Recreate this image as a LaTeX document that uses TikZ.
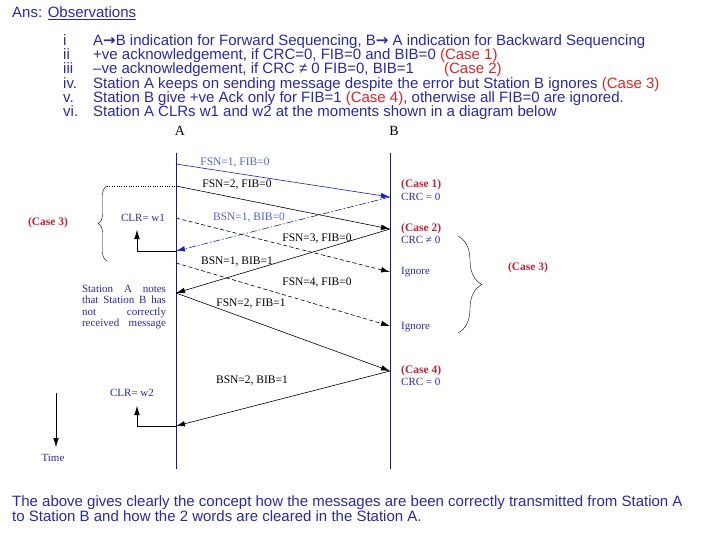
\documentclass[tikz,border=0pt]{standalone}
\usepackage{fontspec}
\setmainfont{Liberation Serif}
\newfontfamily\arialfont{Liberation Sans}
\newfontfamily\arrowfont{DejaVu Sans}
\newcommand{\rarr}{{\arrowfont\bfseries →}}
\usetikzlibrary{arrows.meta, decorations.pathreplacing}

\definecolor{txtblue}{RGB}{40,40,175}
\definecolor{lineblue}{RGB}{25,25,120}
\definecolor{msgblue}{RGB}{20,30,210}
\definecolor{lblblue}{RGB}{80,100,205}
\definecolor{txtred}{RGB}{225,35,35}
\definecolor{casered}{RGB}{190,35,55}

\begin{document}
\begin{tikzpicture}[x=1pt, y=-1pt,
    msg/.style={-{Latex[length=9pt,width=5.5pt]}, semithick},
    lbl/.style={font=\fontsize{11.5}{12}\selectfont, inner sep=0pt},
    note/.style={font=\fontsize{11}{11.3}\selectfont, text=txtblue, inner sep=0pt},
    casetxt/.style={font=\bfseries\fontsize{11.5}{12}\selectfont, text=casered, inner sep=0pt},
    obs/.style={font=\arialfont\fontsize{15}{16}\selectfont, text=txtblue, inner sep=0pt,
        text height=11pt, text depth=1pt, anchor=west}]

    \useasboundingbox (0,0) rectangle (720,540);

    % Observations
    \node[obs] (ans) at (12,13) {Ans: \underline{Observations}};
    \node[obs] (n1) at (63,41) {i};
    \node[obs] (t1) at (93,41) {A\rarr B indication for Forward Sequencing, B\rarr\ A indication for Backward Sequencing};
    \node[obs] (n2) at (63,55) {ii};
    \node[obs] (t2) at (93,55) {+ve acknowledgement, if CRC=0, FIB=0 and BIB=0 \textcolor{txtred}{(Case 1)}};
    \node[obs] (n3) at (63,69) {iii};
    \node[obs] (t3) at (93,69) {–ve acknowledgement, if CRC ≠ 0 FIB=0, BIB=1\hspace{2em}\textcolor{txtred}{(Case 2)}};
    \node[obs] (n4) at (63,84) {iv.};
    \node[obs] (t4) at (93,84) {Station A keeps on sending message despite the error but Station B ignores \textcolor{txtred}{(Case 3)}};
    \node[obs] (n5) at (63,98) {v.};
    \node[obs] (t5) at (93,98) {Station B give +ve Ack only for FIB=1 \textcolor{txtred}{(Case 4)}, otherwise all FIB=0 are ignored.};
    \node[obs] (n6) at (63,112) {vi.};
    \node[obs] (t6) at (93,112) {Station A CLRs w1 and w2 at the moments shown in a diagram below};

    % Stations
    \node[font=\fontsize{14}{16}\selectfont] (stA) at (180,131) {A};
    \node[font=\fontsize{14}{16}\selectfont] (stB) at (394,131) {B};
    \draw[lineblue] (176,153) -- (176,469);
    \draw[lineblue] (390,153) -- (390,469);

    % Points on the two time lines
    \coordinate (a1) at (176,164);
    \coordinate (a2) at (176,186);
    \coordinate (a3) at (176,218);
    \coordinate (a4) at (176,251);
    \coordinate (a5) at (176,263);
    \coordinate (a6) at (176,293);
    \coordinate (a7) at (176,426);
    \coordinate (b1) at (390,197);
    \coordinate (b2) at (390,229);
    \coordinate (b3) at (390,272);
    \coordinate (b4) at (390,326);
    \coordinate (b5) at (390,371);

    % Messages
    \draw[msg, msgblue] (a1) -- (b1);
    \draw[msg] (a2) -- (b2);
    \draw[msg, msgblue, dash pattern=on 7pt off 2pt on 1.5pt off 2pt] (b1) -- (a4);
    \draw[msg, dash pattern=on 4pt off 2.5pt] (a3) -- (b3);
    \draw[msg] (b2) -- (a6);
    \draw[msg, dash pattern=on 4pt off 2.5pt] (a5) -- (b4);
    \draw[msg] (a6) -- (b5);
    \draw[msg] (b5) -- (a7);

    \node[lbl, text=lblblue] (m1) at (235,163) {FSN=1, FIB=0};
    \node[lbl] (m2) at (237,185) {FSN=2, FIB=0};
    \node[lbl, text=lblblue] (m3) at (249,218) {BSN=1, BIB=0};
    \node[lbl] (m4) at (317,239) {FSN=3, FIB=0};
    \node[lbl] (m5) at (237,262) {BSN=1, BIB=1};
    \node[lbl] (m6) at (317,283) {FSN=4, FIB=0};
    \node[lbl] (m7) at (251,304) {FSN=2, FIB=1};
    \node[lbl] (m8) at (252,381) {BSN=2, BIB=1};

    % Station B side
    \node[casetxt, anchor=west] (c1) at (401,185) {(Case 1)};
    \node[note, anchor=west] (r1) at (401,197) {CRC = 0};
    \node[casetxt, anchor=west] (c2) at (401,229) {(Case 2)};
    \node[note, anchor=west] (r2) at (401,240) {CRC ≠ 0};
    \node[note, anchor=west] (r3) at (401,272) {Ignore};
    \node[note, anchor=west] (r4) at (401,327) {Ignore};
    \node[casetxt, anchor=west] (c4) at (401,371) {(Case 4)};
    \node[note, anchor=west] (r5) at (401,382) {CRC = 0};
    \draw[decorate, decoration={brace, amplitude=24pt}] (458,236) -- (458,333);
    \node[casetxt] (c3r) at (528,268) {(Case 3)};

    % Station A side
    \draw[dotted] (107,186) -- (a2);
    \draw[decorate, decoration={brace, amplitude=9pt}] (107,261) -- (107,186);
    \node[casetxt] (c3l) at (48,223) {(Case 3)};
    \node[note] (w1) at (143,218) {CLR= w1};
    \coordinate (w1up) at (137,230);
    \draw[-{Latex[length=9pt,width=5.5pt]}] (a4) -| (w1up);
    \node[note] (w2) at (132,393) {CLR= w2};
    \coordinate (w2up) at (137,406);
    \draw[-{Latex[length=9pt,width=5.5pt]}] (a7) -| (w2up);
    \node[note, align=left] (notes) at (124,307)
        {\makebox[84pt][s]{Station A notes}\\\makebox[84pt][s]{that Station B has}\\
         \makebox[84pt][s]{not correctly}\\\makebox[84pt][s]{received message}};

    % Time
    \coordinate (t0) at (56,393);
    \coordinate (t1end) at (56,447);
    \draw[-{Latex[length=9pt,width=5.5pt]}] (t0) -- (t1end);
    \node[note] (time) at (53,458) {Time};

    % Closing remark
    \node[obs] (s1) at (12,501) {The above gives clearly the concept how the messages are been correctly transmitted from Station A};
    \node[obs] (s2) at (12,516) {to Station B and how the 2 words are cleared in the Station A.};
\end{tikzpicture}
\end{document}
